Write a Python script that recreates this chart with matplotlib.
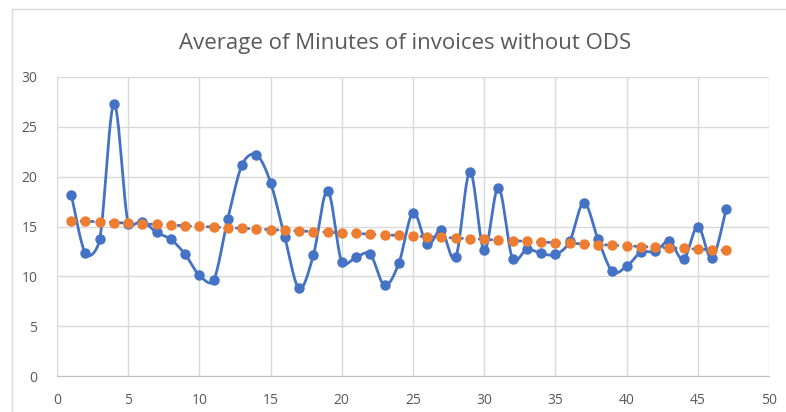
import numpy as np
import matplotlib
matplotlib.use("Agg")
import matplotlib.pyplot as plt
from matplotlib.patches import Rectangle

title = "Average of Minutes of invoices without ODS"
x = list(range(1, 48))
minutes = [18.2, 12.3, 13.7, 27.3, 15.3, 15.5, 14.4, 13.7, 12.2, 10.1,
           9.6, 15.8, 21.2, 22.2, 19.4, 13.9, 8.8, 12.1, 18.6, 11.4,
           11.9, 12.2, 9.1, 11.3, 16.4, 13.2, 14.6, 11.9, 20.5, 12.6,
           18.9, 11.7, 12.7, 12.3, 12.2, 13.5, 17.4, 13.7, 10.5, 11.0,
           12.4, 12.5, 13.5, 11.7, 15.0, 11.8, 16.8]
trend = [15.60, 15.53, 15.47, 15.40, 15.34, 15.27, 15.21, 15.14, 15.08, 15.01,
         14.95, 14.88, 14.82, 14.75, 14.69, 14.62, 14.56, 14.49, 14.43, 14.36,
         14.30, 14.23, 14.17, 14.10, 14.04, 13.97, 13.91, 13.84, 13.77, 13.71,
         13.64, 13.58, 13.51, 13.45, 13.38, 13.32, 13.25, 13.19, 13.12, 13.06,
         12.99, 12.93, 12.86, 12.80, 12.73, 12.67, 12.60]
xticks = [0, 5, 10, 15, 20, 25, 30, 35, 40, 45, 50]
yticks = [0, 5, 10, 15, 20, 25, 30]

BLUE = "#4472C4"
ORANGE = "#ED7D31"
GRID = "#D9D9D9"
TXT = "#595959"


def excel_smooth(xs, ys, sx=14.2, sy=10.0, n=24):
    """Excel-style smoothed line (Bezier, handles clipped to half segment),
    computed in screen-like space (sx, sy = pixels per data unit)."""
    P = np.column_stack([np.asarray(xs, float) * sx, np.asarray(ys, float) * sy])
    m = len(P)
    out = []
    t = np.linspace(0, 1, n, endpoint=False)[:, None]
    for i in range(m - 1):
        p1, p2 = P[i], P[i + 1]
        p0 = P[i - 1] if i > 0 else p1
        p3 = P[i + 2] if i + 2 < m else p2
        d12 = np.linalg.norm(p2 - p1)
        v1 = p2 - p0
        d02 = np.linalg.norm(v1)
        f1 = 1 / 6
        if d02 > 0 and d02 / 6 > d12 / 2:
            f1 = d12 / (2 * d02)
        v2 = p3 - p1
        d13 = np.linalg.norm(v2)
        f2 = 1 / 6
        if d13 > 0 and d13 / 6 > d12 / 2:
            f2 = d12 / (2 * d13)
        c1 = p1 + v1 * f1
        c2 = p2 - v2 * f2
        seg = ((1 - t) ** 3) * p1 + 3 * ((1 - t) ** 2) * t * c1 \
            + 3 * (1 - t) * t ** 2 * c2 + t ** 3 * p2
        out.append(seg)
    out.append(P[-1][None, :])
    out = np.vstack(out)
    return out[:, 0] / sx, out[:, 1] / sy


plt.rcParams['font.family'] = ['Open Sans', 'DejaVu Sans']
fig = plt.figure(figsize=(7.86, 4.12), dpi=100)
fig.patch.set_facecolor("white")
fig.patches.append(Rectangle((12 / 786, -0.1), 1.2, (412 - 9) / 412 + 0.1,
                             transform=fig.transFigure, fill=False,
                             edgecolor=GRID, linewidth=1.0))

ax = fig.add_axes([57 / 786, (412 - 376) / 412, (769 - 57) / 786, (376 - 77) / 412])
ax.set_xlim(0, 50)
ax.set_ylim(0, 30)
ax.set_xticks(xticks)
ax.set_yticks(yticks)
ax.grid(True, color=GRID, linewidth=1.0)
ax.set_axisbelow(True)
for s in ax.spines.values():
    s.set_visible(False)
ax.spines['bottom'].set_visible(True)
ax.spines['bottom'].set_color("#BFBFBF")
ax.tick_params(length=0, colors=TXT, labelsize=10, pad=12)
ax.tick_params(axis='y', pad=14)

sxs, sys_ = excel_smooth(x, minutes)
ax.plot(sxs, sys_, color=BLUE, linewidth=2.0, zorder=3, solid_capstyle='round',
        solid_joinstyle='round')
ax.plot(x, minutes, 'o', color=BLUE, markersize=6.5, zorder=4)
ax.plot(x, trend, linestyle=(0, (1, 2.5)), color=BLUE, linewidth=2.0, zorder=3,
        dash_capstyle='round')
ax.plot(x, trend, 'o', color=ORANGE, markersize=6.5, zorder=5)

fig.text(405 / 786, 1 - 43 / 412, title, ha='center', va='center',
         fontsize=16, color=TXT)

fig.savefig("out.png", dpi=100)
